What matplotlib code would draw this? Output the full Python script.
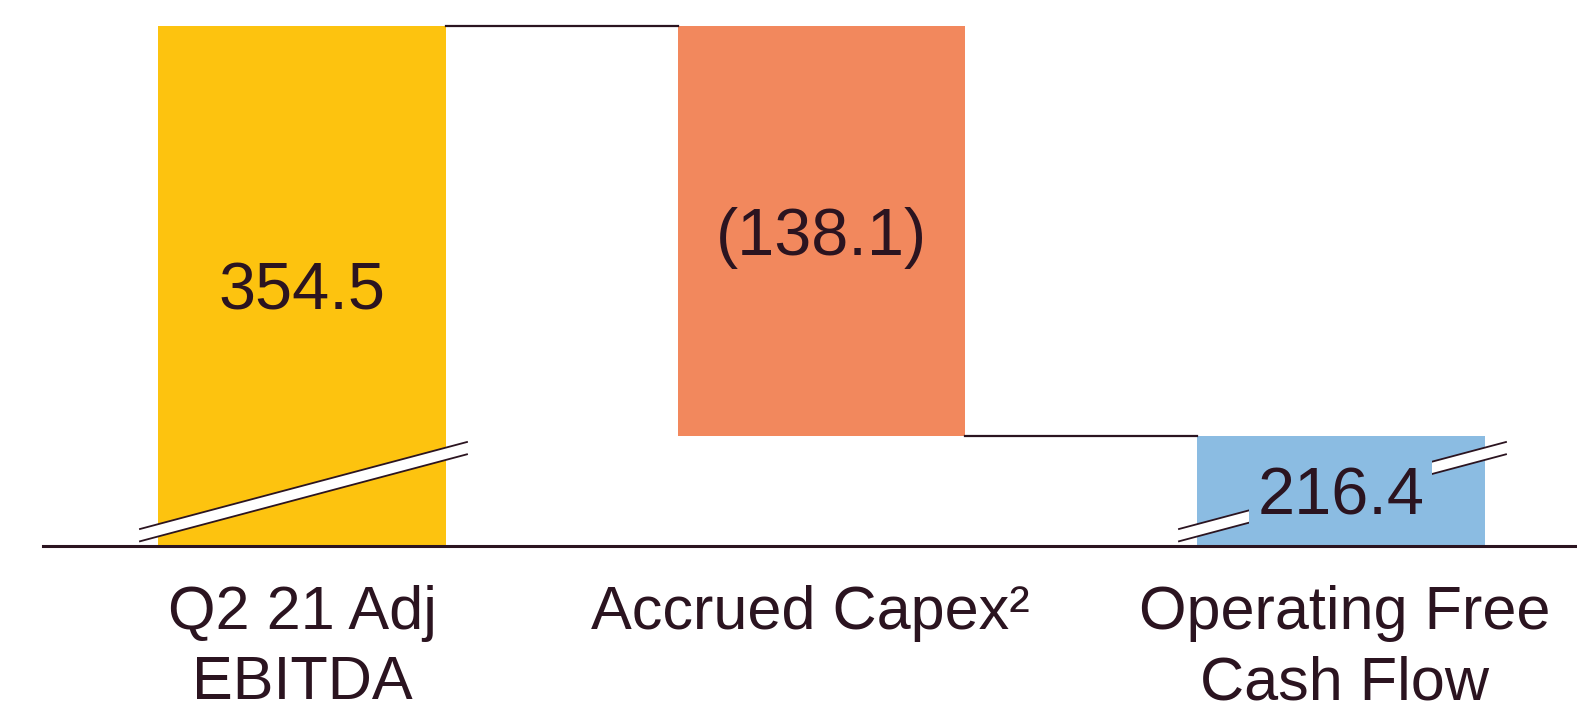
import numpy as np
import matplotlib.pyplot as plt
from matplotlib.patches import Polygon

plt.rcParams['font.family'] = ['Liberation Sans', 'DejaVu Sans']

# data
categories = ['Q2 21 Adj\nEBITDA', 'Accrued Capex²', 'Operating Free\nCash Flow']
ebitda = 354.5
capex = -138.1
ofcf = 216.4
value_labels = ['354.5', '(138.1)', '216.4']
colors = ['#FDC30F', '#F2885D', '#8BBCE2']
ink = '#2B1420'

# broken axis: visible range of the y scale
y_floor = 179.35
y_top = 363.25

W, H = 1577, 716
base_px = 546
fig = plt.figure(figsize=(W / 100, H / 100), dpi=100)
ax = fig.add_axes([0, (H - base_px) / H, 1, base_px / H])
ax.set_xlim(-0.5813, 2.4543)
ax.set_ylim(y_floor, y_top)
ax.axis('off')

kx = W / (2.4543 + 0.5813)          # px per x unit
ky = base_px / (y_top - y_floor)     # px per y unit

x = np.arange(3)
width = 0.554
bottoms = [0, ebitda + capex, 0]
heights = [ebitda, -capex, ofcf]
ax.bar(x, heights, bottom=bottoms, width=width, color=colors, zorder=2)

# connectors
ax.plot([x[0] + width / 2, x[1] - width / 2], [ebitda, ebitda], color=ink, lw=1.6, zorder=3)
ax.plot([x[1] + width / 2, x[2] - width / 2], [ebitda + capex, ebitda + capex], color=ink, lw=1.6, zorder=3)

# baseline
ax.plot([(43 - 302) / kx, 2.4543], [y_floor, y_floor], color=ink, lw=2.2,
        clip_on=False, zorder=6)


def break_mark(xc):
    xl = xc - 162 / kx
    xr = xc + 165 / kx
    yl = y_floor + 17 / ky
    yr = y_floor + 104 / ky
    g = 12.3 / ky
    poly = Polygon([(xl, yl), (xr, yr), (xr, yr - g), (xl, yl - g)],
                   closed=True, facecolor='white', edgecolor='none', zorder=3, clip_on=False)
    ax.add_patch(poly)
    ax.plot([xl, xr], [yl, yr], color=ink, lw=1.3, zorder=4, clip_on=False)
    ax.plot([xl, xr], [yl - g, yr - g], color=ink, lw=1.3, zorder=4, clip_on=False)


break_mark(x[0])
break_mark(x[2])

# value labels
for i in range(3):
    lo = max(bottoms[i], y_floor)
    hi = bottoms[i] + heights[i]
    mid = (lo + hi) / 2
    bbox = None
    if i == 2:
        bbox = dict(facecolor=colors[2], edgecolor='none', pad=6)
    ax.text(x[i], mid, value_labels[i], ha='center', va='center_baseline',
            fontsize=48, color=ink, zorder=5, bbox=bbox)

# category labels
dxs = [0, -11, 4]
for i in range(3):
    ax.annotate(categories[i], xy=(x[i], 0), xycoords=('data', 'axes fraction'),
                xytext=(dxs[i], -39), textcoords='offset pixels',
                ha='center', va='top', fontsize=44, linespacing=1.3, color=ink)

fig.savefig('out.png', dpi=100)
